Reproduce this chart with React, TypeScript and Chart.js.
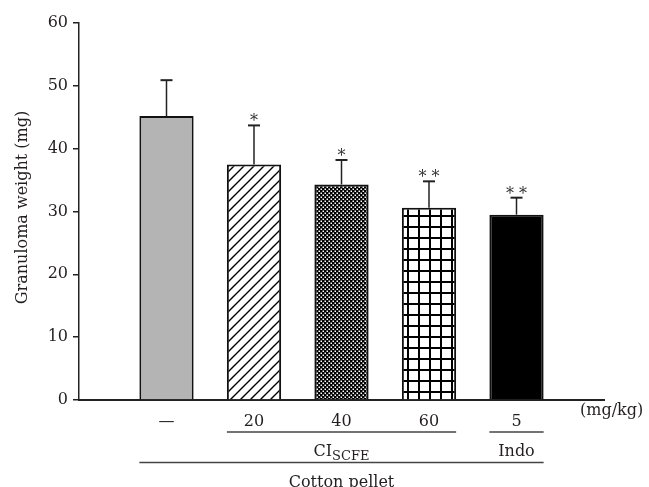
import { useEffect, useRef } from 'react';
import { Chart, registerables } from 'chart.js';

Chart.register(...registerables);

// ---- data ----
const categories = ['', '—', '20', '40', '60', '5', ''];
const means = [null, 45.2, 37.5, 34.3, 30.6, 29.5, null];
const errors = [null, 5.7, 6.2, 3.9, 4.2, 2.7, null];
const stars = ['', '', '*', '*', '* *', '* *', ''];
const yMin = 0;
const yMax = 60;
const yStep = 10;
const yTitle = 'Granuloma weight (mg)';
const unitLabel = '(mg/kg)';
const subGroups = [
  { main: 'CI', sub: 'SCFE', from: 2, to: 4 },
  { main: 'Indo', sub: '', from: 5, to: 5 },
];
const outerGroup = { main: 'Cotton pellet', from: 1, to: 5 };

const FONT = "'DejaVu Serif', serif";
const INK = '#231f20';

function makePattern(kind: string): CanvasPattern | string {
  const c = document.createElement('canvas');
  if (kind === 'hatch') {
    c.width = 10; c.height = 10;
    const g = c.getContext('2d')!;
    g.fillStyle = '#fff'; g.fillRect(0, 0, 10, 10);
    g.strokeStyle = '#000'; g.lineWidth = 1.4;
    g.beginPath();
    g.moveTo(-1, 11); g.lineTo(11, -1);
    g.moveTo(-1, 1); g.lineTo(1, -1);
    g.moveTo(9, 11); g.lineTo(11, 9);
    g.stroke();
  } else if (kind === 'dots') {
    c.width = 4; c.height = 4;
    const g = c.getContext('2d')!;
    g.fillStyle = '#000'; g.fillRect(0, 0, 4, 4);
    g.fillStyle = '#fff';
    g.fillRect(0.5, 0.5, 1.5, 1.5);
    g.fillRect(2.5, 2.5, 1.5, 1.5);
  } else if (kind === 'grid') {
    c.width = 11; c.height = 11;
    const g = c.getContext('2d')!;
    g.fillStyle = '#fff'; g.fillRect(0, 0, 11, 11);
    g.fillStyle = '#000';
    g.fillRect(0, 0, 2, 11);
    g.fillRect(0, 6, 11, 2);
  }
  const p = c.getContext('2d')!.createPattern(c, 'repeat');
  return p || '#888';
}

const annotPlugin = {
  id: 'annot',
  afterDatasetsDraw(chart: any) {
    const { ctx, chartArea, scales } = chart;
    const y = scales.y;
    const meta = chart.getDatasetMeta(0);
    ctx.save();
    // error bars + significance stars
    means.forEach((m, i) => {
      const e = errors[i];
      if (m == null || e == null) return;
      const bar = meta.data[i];
      const cx = bar.x;
      const yb = y.getPixelForValue(m);
      const yt = y.getPixelForValue(m + e);
      ctx.strokeStyle = '#222';
      ctx.lineWidth = 1.5;
      ctx.beginPath();
      ctx.moveTo(cx, yb);
      ctx.lineTo(cx, yt);
      ctx.stroke();
      ctx.lineWidth = 2;
      ctx.beginPath();
      ctx.moveTo(cx - 6, yt);
      ctx.lineTo(cx + 6, yt);
      ctx.stroke();
      if (stars[i]) {
        ctx.fillStyle = '#333';
        ctx.font = `16px ${FONT}`;
        ctx.textAlign = 'center';
        ctx.textBaseline = 'alphabetic';
        ctx.fillText(stars[i], cx, yt + 1);
      }
    });
    ctx.restore();
  },
  afterDraw(chart: any) {
    const { ctx, chartArea } = chart;
    const meta = chart.getDatasetMeta(0);
    const bottom = chartArea.bottom;
    ctx.save();
    ctx.fillStyle = INK;
    // y title
    ctx.save();
    ctx.translate(22.5, (chartArea.top + chartArea.bottom) / 2 - 4);
    ctx.rotate(-Math.PI / 2);
    ctx.font = `16px ${FONT}`;
    ctx.textAlign = 'center';
    ctx.textBaseline = 'middle';
    ctx.fillText(yTitle, 0, 0);
    ctx.restore();
    // unit label
    ctx.font = `16px ${FONT}`;
    ctx.textAlign = 'left';
    ctx.textBaseline = 'alphabetic';
    ctx.fillText(unitLabel, chartArea.right - 24, bottom + 15);

    const edge = (i: number, side: number) => meta.data[i].x + side * meta.data[i].width / 2;
    ctx.strokeStyle = '#444';
    ctx.lineWidth = 1.5;
    subGroups.forEach((g) => {
      const x1 = edge(g.from, -1);
      const x2 = edge(g.to, 1);
      ctx.beginPath();
      ctx.moveTo(x1, bottom + 32);
      ctx.lineTo(x2, bottom + 32);
      ctx.stroke();
      const cx = (x1 + x2) / 2;
      ctx.font = `16px ${FONT}`;
      const wMain = ctx.measureText(g.main).width;
      ctx.font = `13px ${FONT}`;
      const wSub = g.sub ? ctx.measureText(g.sub).width : 0;
      const start = cx - (wMain + wSub) / 2;
      ctx.textAlign = 'left';
      ctx.textBaseline = 'alphabetic';
      ctx.font = `16px ${FONT}`;
      ctx.fillText(g.main, start, bottom + 56);
      if (g.sub) {
        ctx.font = `13px ${FONT}`;
        ctx.fillText(g.sub, start + wMain, bottom + 60);
      }
    });
    {
      const x1 = edge(outerGroup.from, -1);
      const x2 = edge(outerGroup.to, 1);
      ctx.beginPath();
      ctx.moveTo(x1, bottom + 62.5);
      ctx.lineTo(x2, bottom + 62.5);
      ctx.stroke();
      ctx.font = `16px ${FONT}`;
      ctx.textAlign = 'center';
      ctx.textBaseline = 'alphabetic';
      ctx.fillText(outerGroup.main, (x1 + x2) / 2, bottom + 86.5);
    }
    ctx.restore();
  },
};

export default function App() {
  const ref = useRef<HTMLCanvasElement | null>(null);
  useEffect(() => {
    const canvas = ref.current;
    if (!canvas) return;
    const fills = [
      'rgba(0,0,0,0)',
      '#b4b4b5',
      makePattern('hatch'),
      makePattern('dots'),
      makePattern('grid'),
      '#000000',
      'rgba(0,0,0,0)',
    ];
    const chart = new Chart(canvas, {
      type: 'bar',
      data: {
        labels: categories,
        datasets: [
          {
            data: means as any,
            backgroundColor: fills as any,
            borderColor: '#111',
            borderWidth: 2,
            categoryPercentage: 1,
            barPercentage: 0.62,
          },
        ],
      },
      options: {
        responsive: false,
        animation: false,
        layout: { padding: { left: 0, right: 45, top: 23, bottom: 0 } },
        plugins: { legend: { display: false }, tooltip: { enabled: false } },
        scales: {
          x: {
            offset: false,
            grid: { display: false, drawTicks: false },
            border: { display: true, color: '#222', width: 2 },
            ticks: {
              font: { family: FONT, size: 16 },
              color: INK,
              padding: 12,
              maxRotation: 0,
              autoSkip: false,
            },
            afterFit: (s: any) => { s.height = 87; },
          },
          y: {
            min: yMin,
            max: yMax,
            ticks: {
              stepSize: yStep,
              font: { family: FONT, size: 16 },
              color: INK,
              padding: 5,
            },
            grid: {
              drawOnChartArea: false,
              drawTicks: true,
              tickLength: 6,
              color: '#222',
              lineWidth: 1.5,
            },
            border: { display: true, color: '#222', width: 1.5 },
            afterFit: (s: any) => { s.width = 79; },
          },
        },
      },
      plugins: [annotPlugin],
    });
    return () => chart.destroy();
  }, []);
  return (
    <div style={{ position: 'fixed', left: 0, top: 0, width: 649, height: 487, background: '#fff' }}>
      <canvas ref={ref} width={649} height={487} />
    </div>
  );
}
